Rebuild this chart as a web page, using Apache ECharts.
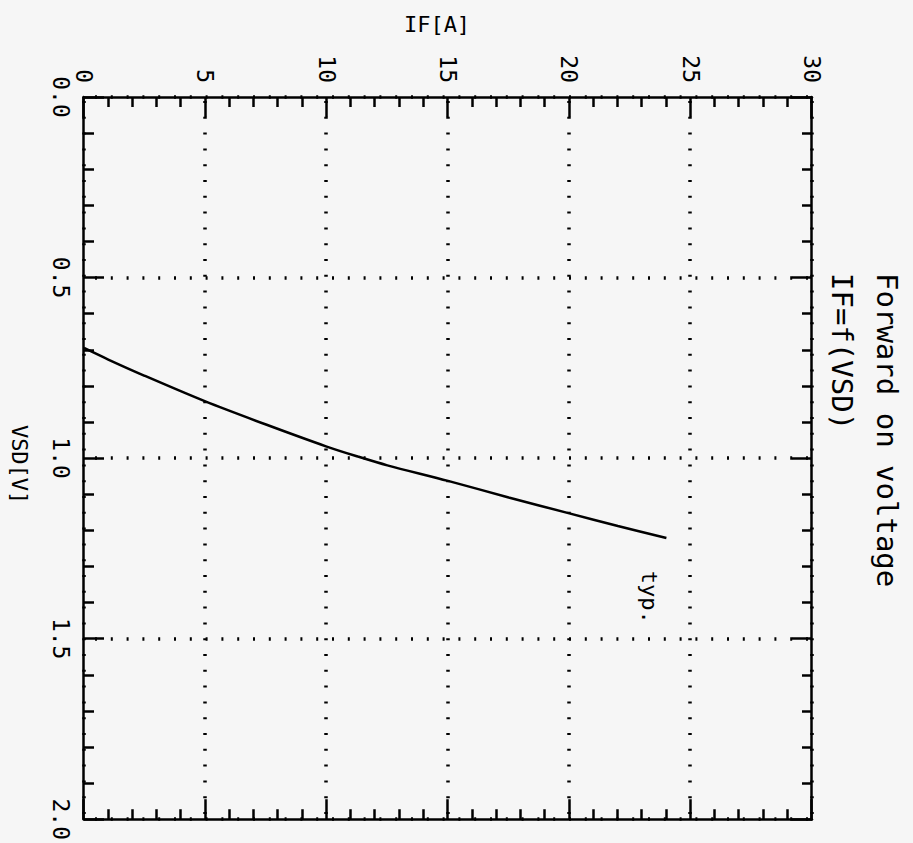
<!DOCTYPE html>
<html>
<head>
<meta charset="utf-8">
<script src="https://cdn.jsdelivr.net/npm/echarts@6/dist/echarts.min.js"></script>
<style>
  html, body { margin: 0; padding: 0; background: #f6f6f6; }
  #wrap { position: absolute; left: 0; top: 0; width: 913px; height: 843px; overflow: hidden; }
  /* chart is laid out upright, then turned a quarter clockwise like the scan */
  #chart {
    position: absolute; left: 0; top: 0;
    width: 843px; height: 913px;
    transform-origin: 0 0;
    transform: translateX(913px) rotate(90deg);
  }
</style>
</head>
<body>
<div id="wrap"><div id="chart"></div></div>
<script>
// forward current IF [A] against source-drain voltage VSD [V]
const ifA = [0, 1, 2.5, 5, 7.5, 10, 11.3, 12.5, 15, 17.5, 20, 22, 24]
const vsd = [0.695, 0.727, 0.772, 0.843, 0.907, 0.968, 0.996, 1.02, 1.063, 1.109, 1.153, 1.188, 1.221]

const vsdTicks = ['0.0', '0.5', '1.0', '1.5', '2.0']
const ifTicks = [0, 5, 10, 15, 20, 25, 30]

const titleLines = ['Forward on voltage', 'IF=f(VSD)']
const curveNote = 'typ.'

const FONT = "'DejaVu Sans Mono', monospace"
const INK = '#000'

const chart = echarts.init(document.getElementById('chart'), undefined, { renderer: 'svg' })

const boxAxis = {
  type: 'value',
  axisLine: { show: true, onZero: false, lineStyle: { color: INK, width: 2.5 } },
  axisTick: { show: true, inside: true, length: 20, lineStyle: { color: INK, width: 2.5 } },
  minorTick: { show: true, splitNumber: 5, length: 10, lineStyle: { color: INK, width: 2.5 } },
  splitLine: { show: false },
  axisLabel: { show: false }
}

const dotted = { show: true, lineStyle: { color: INK, width: 3.5, type: [2, 13.8], dashOffset: -4 } }

const option = {
  animation: false,
  backgroundColor: '#f6f6f6',
  title: {
    text: titleLines.join('\n'),
    left: 273,
    top: 4,
    padding: 0,
    textStyle: { fontFamily: FONT, fontSize: 29, fontWeight: 'normal', color: INK, lineHeight: 45 }
  },
  grid: { left: 97, right: 23, top: 101, bottom: 84 },
  xAxis: [
    Object.assign({}, boxAxis, {
      position: 'bottom',
      min: 0, max: 2, interval: 0.5,
      name: 'VSD[V]',
      nameLocation: 'middle',
      nameGap: 54,
      nameTextStyle: { fontFamily: FONT, fontSize: 22, color: INK, padding: [0, 0, 0, 13] },
      axisLabel: {
        show: true, margin: 12, fontFamily: FONT, fontSize: 23, color: INK,
        formatter: (v) => vsdTicks[Math.round(v / 0.5)]
      },
      splitLine: dotted
    }),
    Object.assign({}, boxAxis, { position: 'top', min: 0, max: 2, interval: 0.5 })
  ],
  yAxis: [
    Object.assign({}, boxAxis, {
      position: 'left',
      min: 0, max: 30, interval: 5,
      name: 'IF[A]',
      nameLocation: 'middle',
      nameGap: 62,
      nameTextStyle: { fontFamily: FONT, fontSize: 22, color: INK, padding: [0, 22, 0, 0] },
      axisLabel: {
        show: true, margin: 14, fontFamily: FONT, fontSize: 23, color: INK,
        formatter: (v) => String(ifTicks[Math.round(v / 5)])
      },
      splitLine: dotted
    }),
    Object.assign({}, boxAxis, { position: 'right', min: 0, max: 30, interval: 5 })
  ],
  series: [
    {
      type: 'line',
      smooth: 0.3,
      showSymbol: false,
      data: vsd.map((v, i) => [v, ifA[i]]),
      lineStyle: { color: INK, width: 2.5 },
      markPoint: {
        symbol: 'circle',
        symbolSize: 1,
        itemStyle: { color: 'rgba(0,0,0,0)' },
        label: { show: true, position: 'inside', formatter: curveNote, fontFamily: FONT, fontSize: 22, color: INK },
        data: [{ coord: [1.385, 23.3] }]
      }
    }
  ]
}

chart.setOption(option)
</script>
</body>
</html>
